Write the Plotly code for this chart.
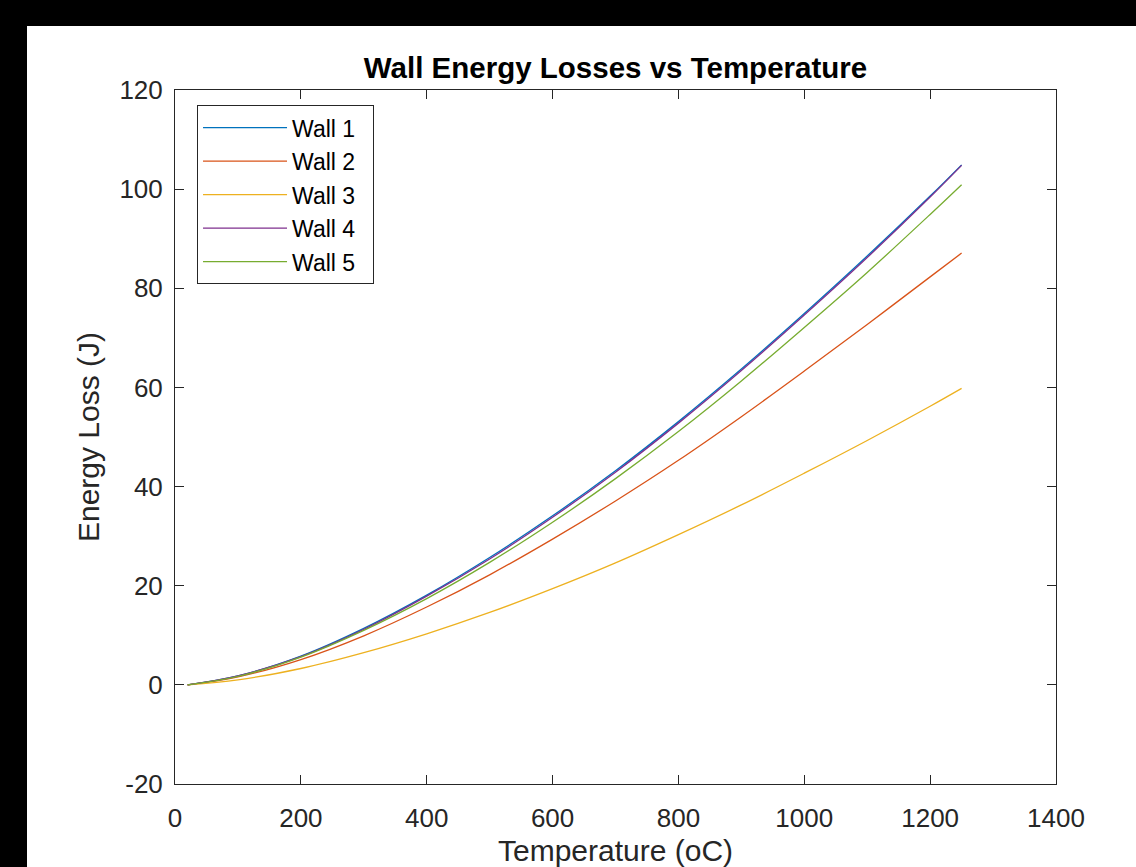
import plotly.graph_objects as go

# Temperature (oC)
temperature = [20, 100, 200, 300, 400, 500, 600, 700, 800, 900, 1000, 1100, 1200, 1250]
# Energy loss (J)
wall_1 = [0, 1.8, 5.8, 11.4, 18.1, 25.7, 34.1, 43.2, 53.1, 63.7, 74.9, 86.5, 98.6, 104.9]
wall_2 = [0, 1.6, 5.1, 9.9, 15.7, 22.2, 29.4, 37.1, 45.3, 54.1, 63.3, 72.7, 82.3, 87.1]
wall_3 = [0, 1.0, 3.3, 6.5, 10.3, 14.6, 19.4, 24.6, 30.3, 36.3, 42.7, 49.3, 56.2, 59.8]
wall_4 = [0, 1.8, 5.7, 11.2, 17.9, 25.4, 33.8, 42.9, 52.8, 63.4, 74.6, 86.2, 98.4, 104.8]
wall_5 = [0, 1.7, 5.6, 11.0, 17.4, 24.7, 32.8, 41.6, 51.1, 61.3, 72.1, 83.2, 94.9, 100.9]

names = ["Wall 1", "Wall 2", "Wall 3", "Wall 4", "Wall 5"]
series = [wall_1, wall_2, wall_3, wall_4, wall_5]
colors = ["#0072BD", "#D95319", "#EDB120", "#7E2F8E", "#77AC30"]

x_ticks = [0, 200, 400, 600, 800, 1000, 1200, 1400]
x_tick_labels = ["0", "200", "400", "600", "800", "1000", "1200", "1400"]
y_ticks = [-20, 0, 20, 40, 60, 80, 100, 120]
y_tick_labels = ["-20", "0", "20", "40", "60", "80", "100", "120"]

FONT = "Arial, Liberation Sans, Helvetica, sans-serif"
AX = "#262626"

fig = go.Figure()
for i, (nm, ys, c) in enumerate(zip(names, series, colors)):
    fig.add_trace(go.Scatter(
        x=temperature, y=ys, mode="lines", name=nm + "\u00a0\u00a0",
        line=dict(color=c, width=1.3, shape="spline", smoothing=1.0),
        legendgroup=f"g{i}",
    ))

axis_common = dict(
    showline=True, linecolor=AX, linewidth=1, mirror="ticks",
    ticks="inside", ticklen=9, tickwidth=1, tickcolor=AX,
    showgrid=False, zeroline=False, automargin=False,
    tickfont=dict(family=FONT, size=26, color=AX),
)

fig.update_layout(
    width=1136, height=867,
    margin=dict(l=175, r=80, t=90, b=83),
    paper_bgcolor="white", plot_bgcolor="white",
    title=dict(text="<b>Wall Energy Losses vs Temperature</b>",
               font=dict(family=FONT, size=29.5, color="black"),
               x=0.5, xref="paper", xanchor="center",
               y=1, yref="paper", yanchor="bottom", pad=dict(b=12)),
    xaxis=dict(range=[0, 1400], tickvals=x_ticks, ticktext=x_tick_labels, ticklabelstandoff=11,
               title=dict(text="Temperature (oC)", font=dict(family=FONT, size=30, color=AX), standoff=12),
               **axis_common),
    yaxis=dict(range=[-20, 120], tickvals=y_ticks, ticktext=y_tick_labels, ticklabelstandoff=6,
               title=dict(text="Energy Loss (J)", font=dict(family=FONT, size=30, color=AX), standoff=10),
               **axis_common),
    legend=dict(x=0.025, y=0.978, xanchor="left", yanchor="top",
                bgcolor="white", bordercolor=AX, borderwidth=1,
                font=dict(family=FONT, size=23, color="black"),
                tracegroupgap=0.6, itemwidth=84),
    showlegend=True,
)

# black border bands of the original screenshot
fig.add_shape(type="rect", xref="paper", yref="paper",
              x0=-175 / 881, x1=(27 - 175) / 881, y0=-83 / 694 - 0.01, y1=784 / 694 + 0.01,
              fillcolor="black", line=dict(width=0), layer="above")
fig.add_shape(type="rect", xref="paper", yref="paper",
              x0=-175 / 881, x1=(1136 - 175) / 881 + 0.01, y0=(784 - 26) / 694, y1=784 / 694 + 0.01,
              fillcolor="black", line=dict(width=0), layer="above")

fig.write_html("out.html", config={"displayModeBar": False},
               post_script="document.body.style.margin='0px';")
